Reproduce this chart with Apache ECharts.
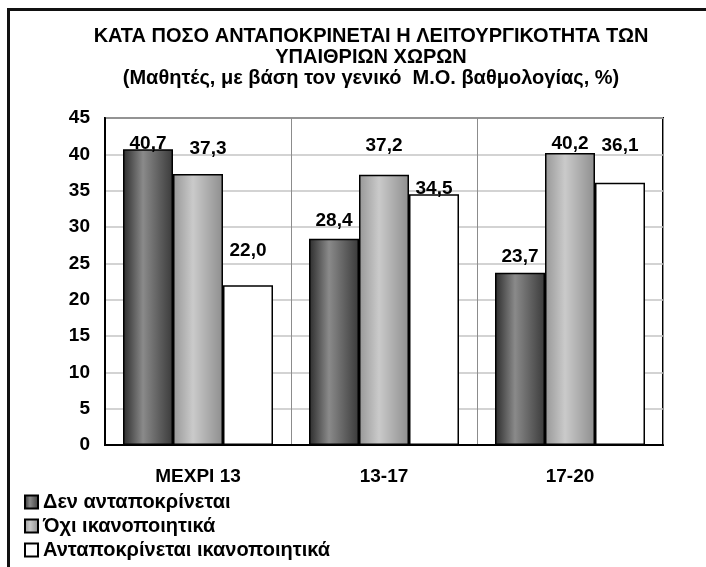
<!DOCTYPE html>
<html>
<head>
<meta charset="utf-8">
<script src="https://cdn.jsdelivr.net/npm/echarts@6/dist/echarts.min.js"></script>
<style>
  html, body { margin: 0; padding: 0; background: #fff; }
  #chart { width: 706px; height: 567px; }
</style>
</head>
<body>
<div id="chart"></div>
<script>
// values
var categories = ['ΜΕΧΡΙ 13', '13-17', '17-20']
var seriesNames = ['Δεν ανταποκρίνεται', 'Όχι ικανοποιητικά', 'Ανταποκρίνεται ικανοποιητικά']
var notMatching = [40.7, 28.4, 23.7]
var notSatisfying = [37.3, 37.2, 40.2]
var satisfying = [22.0, 34.5, 36.1]
var titleLines = [
  'ΚΑΤΑ ΠΟΣΟ ΑΝΤΑΠΟΚΡΙΝΕΤΑΙ Η ΛΕΙΤΟΥΡΓΙΚΟΤΗΤΑ ΤΩΝ',
  'ΥΠΑΙΘΡΙΩΝ ΧΩΡΩΝ',
  '(Μαθητές, με βάση τον γενικό  Μ.Ο. βαθμολογίας, %)'
]

// label placement (the original has labels nudged around by Excel)
var labelLift = [[-4, 8, 7], [16, 19, 0], [25, -4, 27]]
var labelShiftX = [[0, 0, 0], [10, 0, 0], [0, 0, 0]]

var font = '"Liberation Sans", Arial, sans-serif'

function grad(stops) {
  return new echarts.graphic.LinearGradient(0, 0, 1, 0, stops.map(function(s) {
    return { offset: s[0], color: s[1] }
  }))
}

var fills = [
  grad([[0, '#2c2c2c'], [0.4, '#8a8a8a'], [1, '#3a3a3a']]),
  grad([[0, '#979797'], [0.4, '#cacaca'], [1, '#8e8e8e']]),
  '#ffffff'
]

function buildSeries(idx, values) {
  return {
    name: seriesNames[idx],
    type: 'bar',
    barWidth: 50,
    barGap: '0%',
    itemStyle: {
      color: fills[idx],
      borderColor: '#000',
      borderWidth: 1.5
    },
    label: {
      show: true,
      position: 'top',
      color: '#000',
      fontFamily: font,
      fontWeight: 'bold',
      fontSize: 19,
      formatter: function(p) { return p.value.toFixed(1).replace('.', ',') }
    },
    data: values.map(function(v, i) {
      return {
        value: v,
        label: { distance: labelLift[idx][i], offset: [labelShiftX[idx][i], 0] }
      }
    })
  }
}

var chart = echarts.init(document.getElementById('chart'))
chart.setOption({
  animation: false,
  backgroundColor: '#fff',
  graphic: [{
    type: 'rect',
    shape: { x: 8.5, y: 9.5, width: 760, height: 640 },
    style: { fill: 'none', stroke: '#111', lineWidth: 3 },
    z: 100
  }],
  title: {
    text: titleLines.join('\n'),
    left: 371,
    top: 26,
    padding: 0,
    textAlign: 'center',
    textStyle: {
      fontFamily: font,
      fontWeight: 'bold',
      fontSize: 20,
      lineHeight: 21,
      color: '#000'
    }
  },
  legend: {
    orient: 'vertical',
    left: 24,
    top: 492,
    height: 75,
    padding: 0,
    itemWidth: 13,
    itemHeight: 13,
    itemGap: 4,
    icon: 'rect',
    data: seriesNames,
    textStyle: {
      fontFamily: font,
      fontWeight: 'bold',
      fontSize: 20,
      color: '#000'
    }
  },
  grid: {
    left: 105,
    right: 43,
    top: 118,
    bottom: 122,
    show: true,
    borderColor: '#000',
    borderWidth: 2,
    backgroundColor: '#fff'
  },
  xAxis: {
    type: 'category',
    data: categories,
    axisTick: { show: false },
    axisLine: { lineStyle: { color: '#000', width: 2 } },
    splitLine: { show: true, lineStyle: { color: '#8c8c8c', width: 1 } },
    axisLabel: {
      margin: 22,
      color: '#000',
      fontFamily: font,
      fontWeight: 'bold',
      fontSize: 19
    }
  },
  yAxis: {
    type: 'value',
    min: 0,
    max: 45,
    interval: 5,
    axisLine: { show: true, lineStyle: { color: '#000', width: 2 } },
    axisTick: { show: false },
    splitLine: { lineStyle: { color: '#c4c4c4', width: 1.5 } },
    axisLabel: {
      margin: 15,
      color: '#000',
      fontFamily: font,
      fontWeight: 'bold',
      fontSize: 19
    }
  },
  series: [
    buildSeries(0, notMatching),
    buildSeries(1, notSatisfying),
    buildSeries(2, satisfying)
  ]
})
</script>
</body>
</html>
